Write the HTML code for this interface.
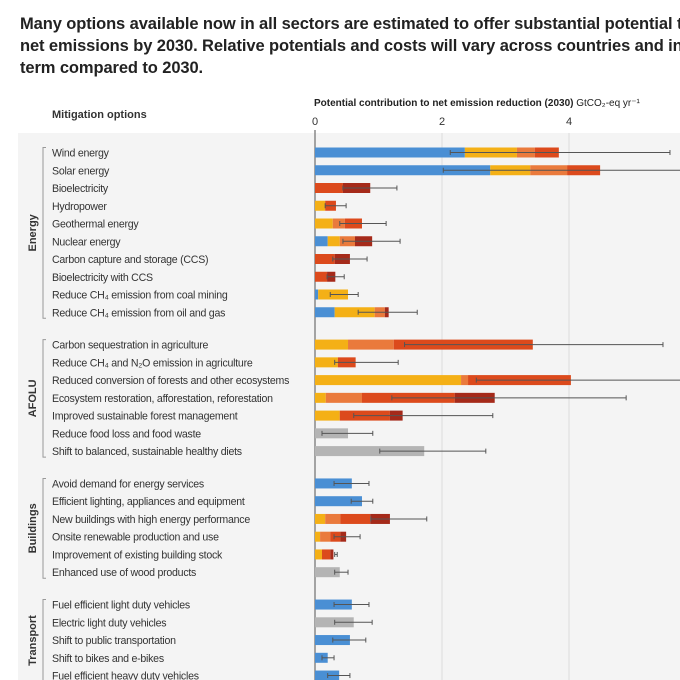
<!DOCTYPE html>
<html><head><meta charset="utf-8"><style>
body{margin:0;width:680px;height:680px;overflow:hidden;background:#fff;font-family:"Liberation Sans",sans-serif}
#title{position:absolute;left:20px;top:13px;width:660px;font-weight:bold;font-size:16.5px;line-height:22px;color:#222;white-space:nowrap;overflow:hidden;letter-spacing:-0.1px}
</style></head><body>
<div id="title">Many options available now in all sectors are estimated to offer substantial potential to reduce<br>net emissions by 2030. Relative potentials and costs will vary across countries and in the longer<br>term compared to 2030.</div>
<svg id="chart" width="680" height="680" style="position:absolute;left:0;top:0"></svg>
<script>
const categories=["Wind energy","Solar energy","Bioelectricity","Hydropower","Geothermal energy","Nuclear energy","Carbon capture and storage (CCS)","Bioelectricity with CCS","Reduce CH₄ emission from coal mining","Reduce CH₄ emission from oil and gas","Carbon sequestration in agriculture","Reduce CH₄ and N₂O emission in agriculture","Reduced conversion of forests and other ecosystems","Ecosystem restoration, afforestation, reforestation","Improved sustainable forest management","Reduce food loss and food waste","Shift to balanced, sustainable healthy diets","Avoid demand for energy services","Efficient lighting, appliances and equipment","New buildings with high energy performance","Onsite renewable production and use","Improvement of existing building stock","Enhanced use of wood products","Fuel efficient light duty vehicles","Electric light duty vehicles","Shift to public transportation","Shift to bikes and e-bikes","Fuel efficient heavy duty vehicles"];
const groupOf=[0,0,0,0,0,0,0,0,0,0,1,1,1,1,1,1,1,2,2,2,2,2,2,3,3,3,3,3];
const groups=["Energy","AFOLU","Buildings","Transport"];
const blue=[2.36,2.76,0,0,0,0.2,0,0,0.05,0.31,0,0,0,0,0,0,0,0.58,0.74,0,0,0,0,0.58,0,0.55,0.2,0.38];
const yellow=[0.82,0.63,0,0.16,0.28,0.19,0,0,0.47,0.63,0.52,0.36,2.30,0.17,0.39,0,0,0,0,0.16,0.08,0.11,0,0,0,0,0,0];
const orange=[0.28,0.58,0,0,0.19,0.24,0,0,0,0.16,0.72,0,0.11,0.57,0,0,0,0,0,0.24,0.16,0,0,0,0,0,0,0];
const red=[0.38,0.52,0.44,0.17,0.27,0,0.31,0.19,0,0,2.19,0.28,1.62,1.46,0.79,0,0,0,0,0.47,0.16,0.13,0,0,0,0,0,0];
const darkred=[0,0,0.43,0,0,0.27,0.24,0.13,0,0.06,0,0,0,0.63,0.2,0,0,0,0,0.31,0.09,0.05,0,0,0,0,0,0];
const gray=[0,0,0,0,0,0,0,0,0,0,0,0,0,0,0,0.52,1.72,0,0,0,0,0,0.39,0,0.61,0,0,0];
const errLow=[2.13,2.02,0.44,0.16,0.39,0.44,0.28,0.19,0.24,0.68,1.41,0.31,2.54,1.21,0.61,0.11,1.02,0.30,0.57,0.88,0.30,0.31,0.31,0.30,0.31,0.28,0.11,0.20];
const errHigh=[5.59,6.0,1.29,0.49,1.12,1.34,0.82,0.46,0.68,1.61,5.48,1.31,6.0,4.90,2.80,0.91,2.69,0.85,0.91,1.76,0.71,0.35,0.52,0.85,0.90,0.80,0.30,0.55];
const ticks=[0,2,4];
const x0=315,pxPerUnit=63.5;
function xs(v){return x0+v*pxPerUnit;}
function ys(i){const g=groupOf[i];return 152.5+i*17.75+g*14.6;}
const NS="http://www.w3.org/2000/svg";
const svg=document.getElementById('chart');
function el(t,a,p){const e=document.createElementNS(NS,t);for(const k in a)e.setAttribute(k,a[k]);(p||svg).appendChild(e);return e;}
const panel=el('rect',{x:18,y:133,width:662,height:547,fill:'#f4f4f4'});


ticks.forEach(t=>{
 if(t>0){const g=el('line',{x1:xs(t),x2:xs(t),y1:133,y2:680,stroke:'#dcdcdc','stroke-width':1});
 
 }
 const tl=el('text',{x:xs(t),y:125,'font-size':11,fill:'#333','text-anchor':'middle'});tl.textContent=t;
 
 
});
const at=el('text',{x:314,y:106,'font-size':10,'font-weight':'bold',fill:'#222'});
at.innerHTML='Potential contribution to net emission reduction (2030) <tspan font-weight="normal">GtCO₂-eq yr⁻¹</tspan>';


const mo=el('text',{x:52,y:118,'font-size':11,'font-weight':'bold',fill:'#333'});mo.textContent='Mitigation options';


const axis=el('line',{x1:315,x2:315,y1:130,y2:680,stroke:'#888','stroke-width':1.5});


const colors=['#4a8fd4','#f4b016','#ea7a3c','#dc4a1c','#a52a1a','#b4b4b4'];
const series=[blue,yellow,orange,red,darkred,gray];
const snames=['blue','yellow','orange','red','darkred','gray'];
categories.forEach((c,i)=>{
 const y=ys(i);
 const t=el('text',{x:52,y:y+4,'font-size':10.6,fill:'#333','letter-spacing':'-0.25'});t.textContent=c;
 
 
 let acc=0;
 series.forEach((s,k)=>{if(s[i]>0){const r=el('rect',{x:xs(acc),y:y-5,width:xs(acc+s[i])-xs(acc),height:10,fill:colors[k]});
  
  
  acc+=s[i];}});
 const eb=el('g',{stroke:'#555','stroke-width':1});
 
 
 el('line',{x1:xs(errLow[i]),x2:xs(errHigh[i]),y1:y,y2:y},eb);
 el('line',{x1:xs(errLow[i]),x2:xs(errLow[i]),y1:y-2.5,y2:y+2.5},eb);
 el('line',{x1:xs(errHigh[i]),x2:xs(errHigh[i]),y1:y-2.5,y2:y+2.5},eb);
});
groups.forEach((g,k)=>{
 const idx=groupOf.map((v,i)=>v===k?i:-1).filter(i=>i>=0);
 const y1=ys(idx[0])-5,y2=ys(idx[idx.length-1])+6;
 const b=el('path',{d:`M46 ${y1} H43 V${y2} H46`,stroke:'#999',fill:'none','stroke-width':1});
 
 
 const cy=(y1+y2)/2;
 const t=el('text',{x:0,y:0,'font-size':11,'font-weight':'bold',fill:'#333','text-anchor':'middle',transform:`translate(36 ${cy}) rotate(-90)`});t.textContent=g;
 
 
});
</script>
</body></html>
